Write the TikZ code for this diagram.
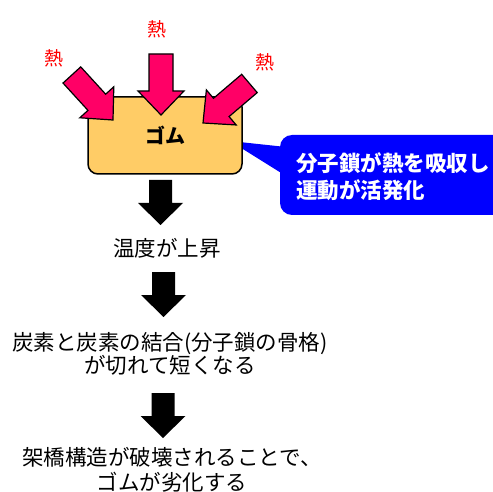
\documentclass[tikz,border=0pt]{standalone}
\usepackage{fontspec}
\newfontfamily\jp{Noto Sans CJK JP}
\definecolor{heatpink}{HTML}{FF0066}
\definecolor{rubberfill}{HTML}{FFCC66}
\definecolor{calloutblue}{HTML}{0000FF}
\definecolor{heatred}{HTML}{FF0000}
\tikzset{
  heatarrow/.pic={\draw[fill=heatpink,line width=1.2pt,line join=miter]
    (-12,-61)--(12,-61)--(12,-24)--(23,-24)--(0,0)--(-23,-24)--(-12,-24)--cycle;},
  downarrow/.pic={\fill[black]
    (-11.5,-45)--(11.5,-45)--(11.5,-22)--(22.5,-22)--(0,0)--(-22.5,-22)--(-11.5,-22)--cycle;},
  heatlabel/.style={text=heatred,font=\jp\fontsize{19}{21}\selectfont,inner sep=0pt},
  steptext/.style={font=\jp\fontsize{21.5}{23}\selectfont,align=center,inner sep=0pt},
  rubberbox/.style={draw=black,line width=1.5pt,fill=rubberfill,rounded corners=10pt,
    minimum width=154pt,minimum height=77pt,inner sep=0pt,font=\jp\bfseries\fontsize{20}{22}\selectfont},
}
\begin{document}
\begin{tikzpicture}[x=1pt,y=-1pt]
\useasboundingbox (0,0) rectangle (493,492);
% callout
\begin{scope}
\clip (0,0) rectangle (493,492);
\fill[calloutblue,rounded corners=12pt] (280,135) rectangle (520,215);
\coordinate (ptip) at (230,141);
\fill[calloutblue] (ptip) -- (286,147) -- (286,176) -- cycle;
\end{scope}
\node[anchor=west,text=white,font=\jp\bfseries\fontsize{21.5}{27}\selectfont,align=left,inner sep=0pt]
  (callout) at (296,176.5) {分子鎖が熱を吸収し\\運動が活発化};
% rubber
\node[rubberbox] (rubber) at (165,135.5) {ゴム};
% heat arrows
\pic[rotate=42.4] at (113,120) {heatarrow};
\pic at (161,115) {heatarrow};
\pic[rotate=-49.6] at (203,123) {heatarrow};
\node[heatlabel] (h1) at (54,58) {熱};
\node[heatlabel] (h2) at (157,29) {熱};
\node[heatlabel] (h3) at (265,62) {熱};
% steps
\pic at (160.5,225) {downarrow};
\node[steptext] (t1) at (167,248) {温度が上昇};
\pic at (163.5,317) {downarrow};
\node[steptext] (t2) at (170,353.5) {炭素と炭素の結合(分子鎖の骨格)\\が切れて短くなる};
\pic at (163,438) {downarrow};
\node[steptext,font=\jp\fontsize{21.5}{25}\selectfont] (t3) at (172,469.5) {架橋構造が破壊されることで、\\ゴムが劣化する};
\end{tikzpicture}
\end{document}
